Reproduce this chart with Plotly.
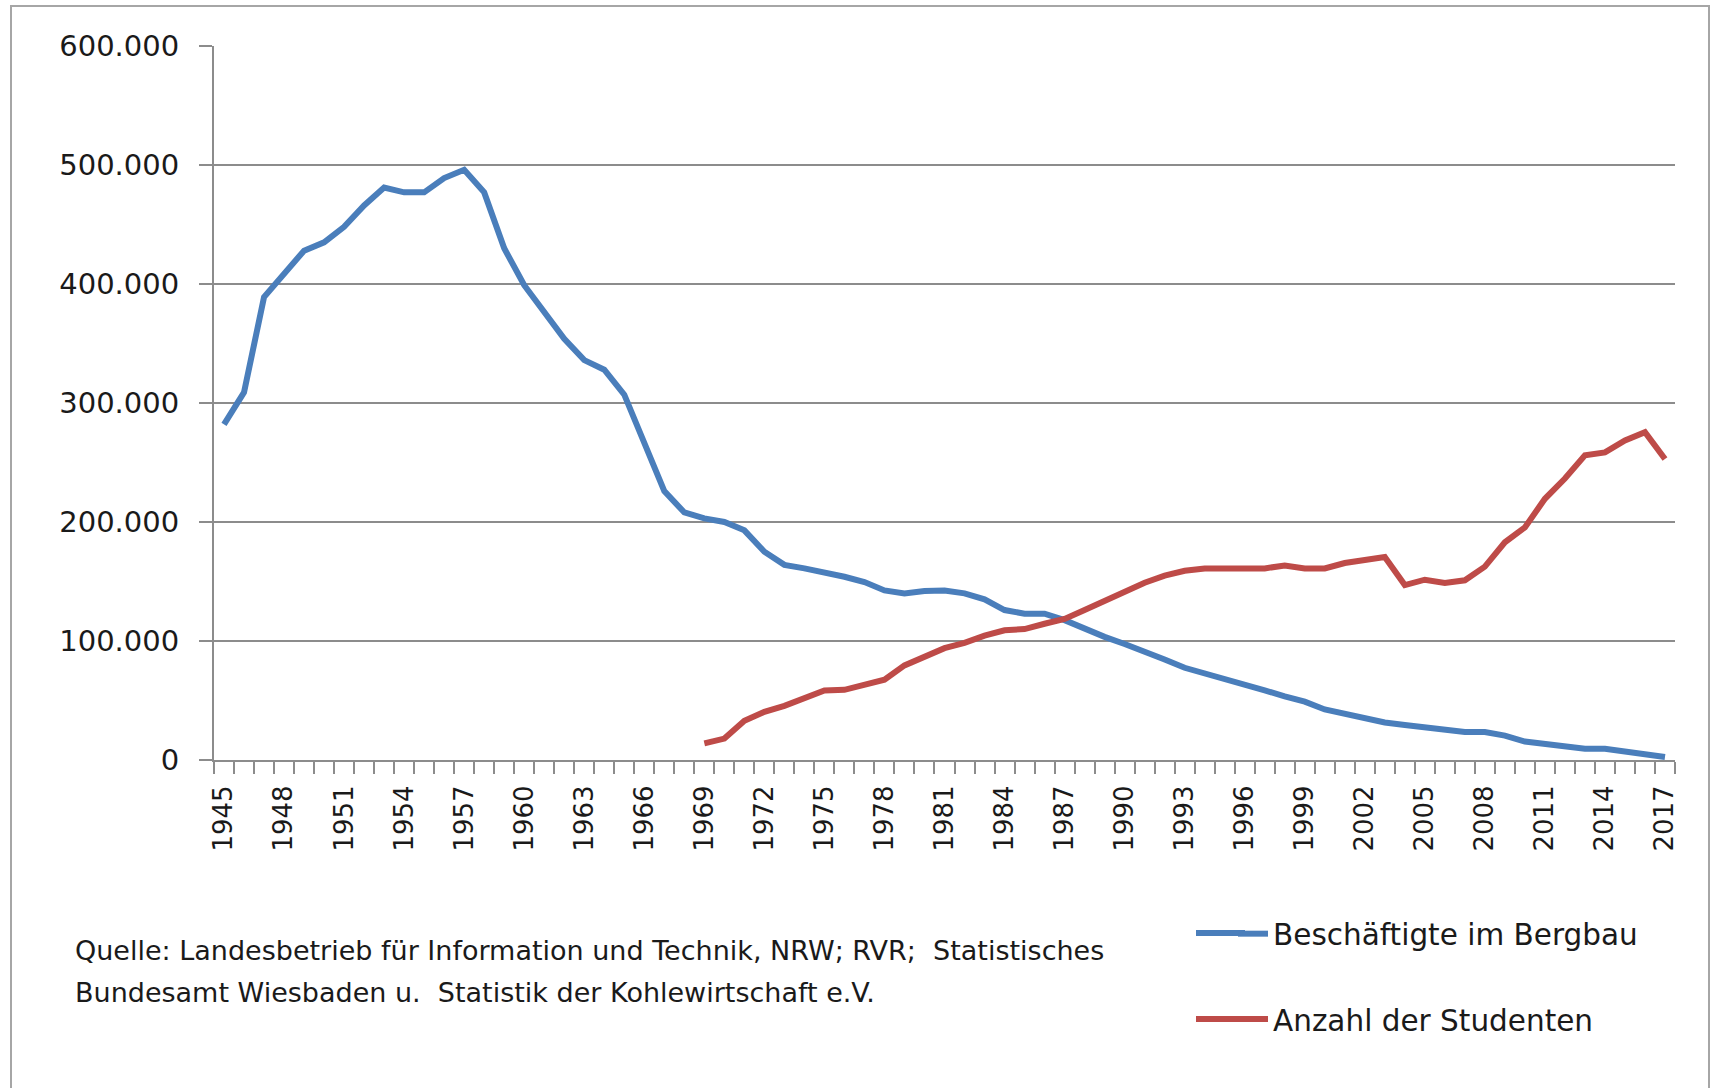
import plotly.graph_objects as go

years = list(range(1945, 2018))
beschaeftigte = [
    282000, 309000, 389000, 408000, 428000, 435000, 448000, 466000, 481000, 477000,
    477000, 489000, 496000, 477000, 430000, 399000, 377000, 354000, 336000, 328000,
    307000, 265000, 226000, 208000, 203000, 200000, 193000, 175000, 164000, 161000,
    158000, 154000, 149500, 142500, 140000, 142000, 142500, 140000, 135000, 126000,
    123000, 123000, 117500, 110000, 103500, 97500, 91500, 84500, 77500, 73000,
    68500, 63500, 58500, 53500, 49000, 42500, 38500, 35500, 31500, 29500,
    27500, 25500, 23500, 23500, 20500, 15500, 13500, 11500, 9500, 9500,
    7000, 4800, 2500,
]

student_years = list(range(1969, 2018))
studenten = [
    14000, 18000, 33000, 40500, 45500, 52500, 58500, 59000, 63000, 67500,
    79500, 87000, 94000, 98500, 104500, 109000, 110000, 114500, 118500, 126000,
    133500, 141000, 149000, 155000, 159000, 161000, 161000, 161000, 161000, 163500,
    161000, 161000, 165500, 168000, 170500, 147000, 151500, 148700, 151000, 162500,
    183000, 195500, 219500, 236500, 256000, 258500, 268500, 275500, 253000,
]

y_ticks = [0, 100000, 200000, 300000, 400000, 500000, 600000]
x_label_years = years[::3]

series_names = ["Beschäftigte im Bergbau", "Anzahl der Studenten"]
colors = ["#4A7EBB", "#BE4B48"]
source_lines = [
    "Quelle: Landesbetrieb für Information und Technik, NRW; RVR;  Statistisches",
    "Bundesamt Wiesbaden u.  Statistik der Kohlewirtschaft e.V.",
]

GRID = "#8c8c8c"
TXT = "#1a1a1a"
FONT = "DejaVu Sans"

# pixel -> paper helpers (plot area: x 214..1675, y 46..760)
L, W, B, H = 214, 1461, 760, 714
def px(x):
    return (x - L) / W
def py(y):
    return (B - y) / H

fig = go.Figure()
fig.add_trace(go.Scatter(x=years, y=beschaeftigte, mode="lines", name=series_names[0],
                         legendgroup="a",
                         line=dict(color=colors[0], width=6), hoverinfo="x+y"))
fig.add_trace(go.Scatter(x=student_years, y=studenten, mode="lines", name=series_names[1],
                         legendgroup="b",
                         line=dict(color=colors[1], width=6), hoverinfo="x+y"))

fig.update_layout(
    width=1712, height=1088,
    margin=dict(l=L, r=1712 - L - W, t=46, b=1088 - B),
    paper_bgcolor="white", plot_bgcolor="white",
    separators=",.",
    showlegend=True,
    legend=dict(x=px(1233), y=py(908), xanchor="left", yanchor="top",
                font=dict(family=FONT, size=29.5, color=TXT),
                traceorder="grouped", tracegroupgap=44,
                bgcolor="rgba(0,0,0,0)"),
    font=dict(family=FONT, color=TXT),
)

fig.update_xaxes(
    type="linear", range=[1944.5, 2017.5],
    tickmode="array", tickvals=x_label_years, ticktext=[str(y) for y in x_label_years],
    tickangle=-90, ticks="", showgrid=False, zeroline=False,
    showline=True, linecolor=GRID, linewidth=2,
    tickfont=dict(family=FONT, size=26, color=TXT),
    ticklabelstandoff=13,
    minor=dict(tick0=1944.5, dtick=1, ticks="outside", ticklen=12,
               tickcolor=GRID, tickwidth=2, showgrid=False),
)
fig.update_yaxes(
    range=[0, 600000], tickmode="array", tickvals=y_ticks,
    tickformat=",.0f",
    ticks="outside", ticklen=13, tickcolor=GRID, tickwidth=2,
    showgrid=True, gridcolor=GRID, gridwidth=2, zeroline=False,
    showline=True, linecolor=GRID, linewidth=2,
    tickfont=dict(family=FONT, size=29, color=TXT),
    ticklabelstandoff=14,
)

# outer frame
fig.add_shape(type="rect", xref="paper", yref="paper",
              x0=px(11), x1=px(1709), y0=py(1095), y1=py(6),
              line=dict(color="#a6a6a6", width=2), fillcolor="rgba(0,0,0,0)", layer="below")

# longer legend sample lines (Excel style)
for c, ypix in zip(colors, [933, 1019]):
    fig.add_shape(type="line", xref="paper", yref="paper",
                  x0=px(1196), x1=px(1245), y0=py(ypix), y1=py(ypix),
                  line=dict(color=c, width=6))

for txt, ypix in zip(source_lines, [950, 992]):
    fig.add_annotation(text=txt, xref="paper", yref="paper",
                       x=px(73), y=py(ypix),
                       xanchor="left", yanchor="middle", showarrow=False,
                       font=dict(family=FONT, size=27, color=TXT))

fig.write_html("out.html", config={"displayModeBar": False},
               post_script="document.body.style.margin='0';document.body.style.overflow='hidden';")
